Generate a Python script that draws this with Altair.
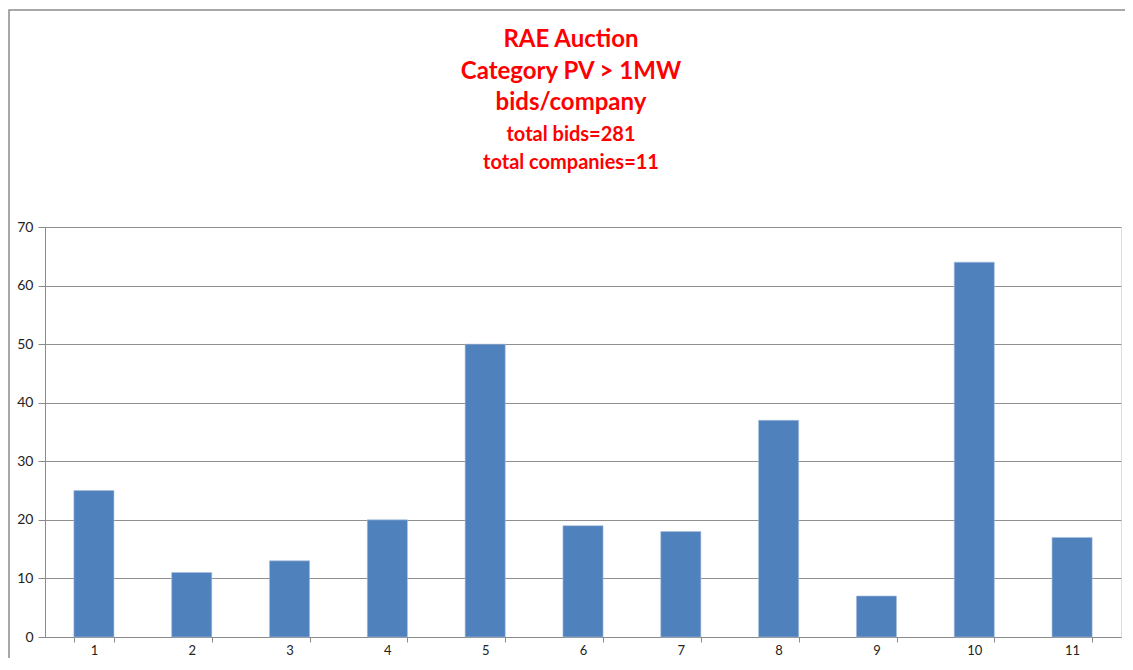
import altair as alt
import pandas as pd

companies = ["1", "2", "3", "4", "5", "6", "7", "8", "9", "10", "11"]
bids = [25, 11, 13, 20, 50, 19, 18, 37, 7, 64, 17]
title_lines = ["RAE Auction", "Category PV > 1MW", "bids/company", "total bids=281", "total companies=11"]
title_sizes = [24, 24, 24, 20, 20]
title_y = [-187, -155, -124, -92, -64]

df = pd.DataFrame({"company": companies, "bids": bids})

FONT = "Lato"

bars = alt.Chart(df).mark_bar(color="#4F81BD", stroke="#A9C0DE", strokeWidth=0.6).encode(
    x=alt.X("company:O", sort=companies, title=None,
            scale=alt.Scale(paddingInner=0.59, paddingOuter=0.295),
            axis=alt.Axis(labelAngle=0, tickBand="extent", grid=False, domainColor="#8a8a8a",
                          tickColor="#8a8a8a", tickSize=5, labelPadding=2, labelFontSize=13,
                          labelColor="#222222", labelFont=FONT)),
    y=alt.Y("bids:Q", title=None,
            scale=alt.Scale(domain=[0, 70]),
            axis=alt.Axis(values=[0, 10, 20, 30, 40, 50, 60, 70], grid=True, gridColor="#8f8f8f",
                          domainColor="#8a8a8a", tickColor="#8a8a8a", tickSize=7, labelPadding=5,
                          labelFontSize=14, labelColor="#222222", labelFont=FONT)),
)

texts = []
for line, size, ty in zip(title_lines, title_sizes, title_y):
    texts.append(
        alt.Chart(alt.Data(values=[{"t": line}])).mark_text(
            color="#FF0000", fontWeight="bold", font=FONT, fontSize=size, baseline="middle", align="center"
        ).encode(text="t:N", x=alt.value(526), y=alt.value(ty))
    )

border = alt.Chart(alt.Data(values=[{}])).mark_rect(
    fill=None, stroke="#8c8c8c", strokeWidth=1.5, clip=False
).encode(x=alt.value(-36), x2=alt.value(1300), y=alt.value(-217), y2=alt.value(600))

chart = alt.layer(border, bars, *texts).properties(
    width=1076, height=410,
    autosize=alt.AutoSizeParams(type="none"),
    padding={"left": 37, "top": 219, "right": 4, "bottom": 21},
).configure_view(stroke=None).configure(background="white")

chart.save("out.html", embed_options={"renderer": "svg", "actions": False})
